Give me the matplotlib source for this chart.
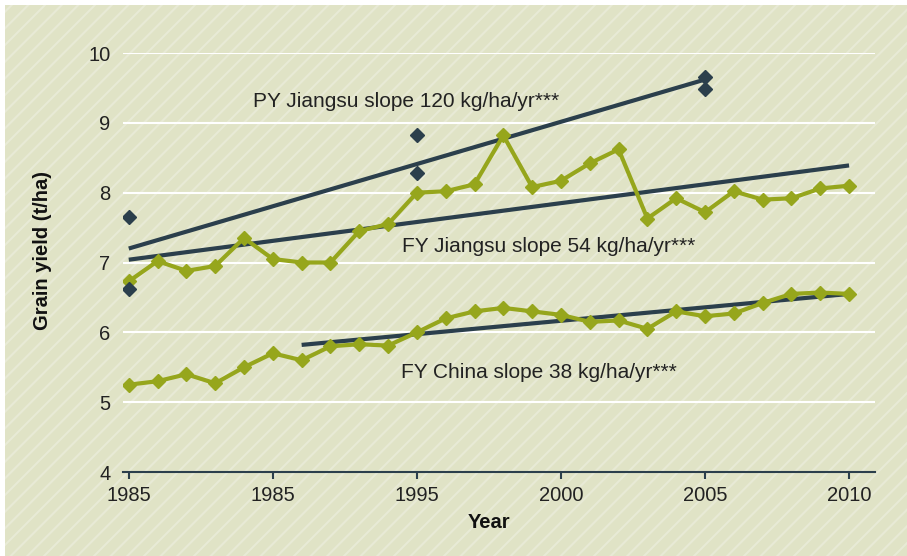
import numpy as np
import matplotlib.pyplot as plt
from matplotlib.patches import Rectangle

plt.rcParams['font.family'] = ['Liberation Sans', 'DejaVu Sans']

years = list(range(1985, 2011))

# FY Jiangsu (farmer yield)
fy_jiangsu = [6.73, 7.02, 6.88, 6.95, 7.35, 7.05, 7.00, 7.00, 7.45, 7.55,
              8.00, 8.02, 8.12, 8.82, 8.08, 8.17, 8.42, 8.62, 7.63, 7.92,
              7.72, 8.02, 7.90, 7.92, 8.06, 8.10]
# FY China
fy_china = [5.25, 5.30, 5.40, 5.27, 5.50, 5.70, 5.60, 5.80, 5.83, 5.81,
            6.00, 6.20, 6.30, 6.35, 6.30, 6.25, 6.15, 6.17, 6.05, 6.30,
            6.23, 6.27, 6.42, 6.55, 6.57, 6.55]
# PY Jiangsu (potential yield)
py_years = [1985, 1985, 1995, 1995, 2005, 2005]
py_vals = [7.65, 6.62, 8.82, 8.28, 9.66, 9.48]

# trend lines (start, end)
py_trend_x = [1985, 2005]
py_trend_y = [7.20, 9.62]
fyj_trend_x = [1985, 2010]
fyj_trend_y = [7.04, 8.39]
fyc_trend_x = [1991, 2010]
fyc_trend_y = [5.82, 6.55]

xtick_pos = [1985, 1990, 1995, 2000, 2005, 2010]
xtick_labels = ['1985', '1985', '1995', '2000', '2005', '2010']

green = '#96a61c'
dark = '#2b3f4c'
bg = '#e0e3c6'

plt.rcParams['hatch.color'] = '#e8ead6'
plt.rcParams['hatch.linewidth'] = 1.5

fig = plt.figure(figsize=(9.07, 5.56), dpi=100)
fig.patch.set_facecolor('white')
fig.patches.append(Rectangle((5 / 907, 0), 1, 1 - 5 / 556, transform=fig.transFigure,
                             facecolor=bg, edgecolor='#e8ead6', hatch='//',
                             linewidth=0, zorder=-10))

ax = fig.add_axes([123 / 907, 1 - 472 / 556, (875 - 123) / 907, (472 - 53) / 556])
ax.set_facecolor('none')
ax.set_xlim(1984.8, 2010.9)
ax.set_ylim(4, 10)

for v in [5, 6, 7, 8, 9, 10]:
    ax.axhline(v, color='white', lw=1.5, zorder=1)

ax.plot(fyj_trend_x, fyj_trend_y, color=dark, lw=3, zorder=2, solid_capstyle='butt')
ax.plot(py_trend_x, py_trend_y, color=dark, lw=3, zorder=2, solid_capstyle='butt')
ax.plot(fyc_trend_x, fyc_trend_y, color=dark, lw=3, zorder=2, solid_capstyle='butt')

ax.plot(years, fy_jiangsu, color=green, lw=3, marker='D', ms=7, zorder=3)
ax.plot(years, fy_china, color=green, lw=3, marker='D', ms=7, zorder=3)
ax.plot(py_years, py_vals, ls='none', color=dark, marker='D', ms=7.5, zorder=4)

txt = dict(fontsize=15, color='#222222', va='center', ha='left')
ax.text(1989.3, 9.3, 'PY Jiangsu slope 120 kg/ha/yr***', **txt)
ax.text(1994.5, 7.23, 'FY Jiangsu slope 54 kg/ha/yr***', **txt)
ax.text(1994.45, 5.42, 'FY China slope 38 kg/ha/yr***', **txt)

for s in ['top', 'right', 'left']:
    ax.spines[s].set_visible(False)
ax.spines['bottom'].set_color(dark)
ax.spines['bottom'].set_linewidth(1.5)
ax.spines['bottom'].set_zorder(5)

ax.set_xticks(xtick_pos)
ax.set_xticklabels(xtick_labels)
ax.set_yticks([4, 5, 6, 7, 8, 9, 10])
ax.tick_params(axis='x', direction='out', length=5, width=1.5, color=dark,
               labelsize=14.5, pad=5, labelcolor='#222222')
ax.tick_params(axis='y', length=0, labelsize=14.5, pad=9, labelcolor='#222222')

fig.text(489 / 907, 1 - 523 / 556, 'Year', fontsize=14.5, fontweight='bold',
         ha='center', va='center', color='#111111')
fig.text(43 / 907, 1 - 250 / 556, 'Grain yield (t/ha)', fontsize=14.5, fontweight='bold',
         rotation=90, ha='center', va='center', color='#111111')

fig.savefig('out.png', dpi=100)
